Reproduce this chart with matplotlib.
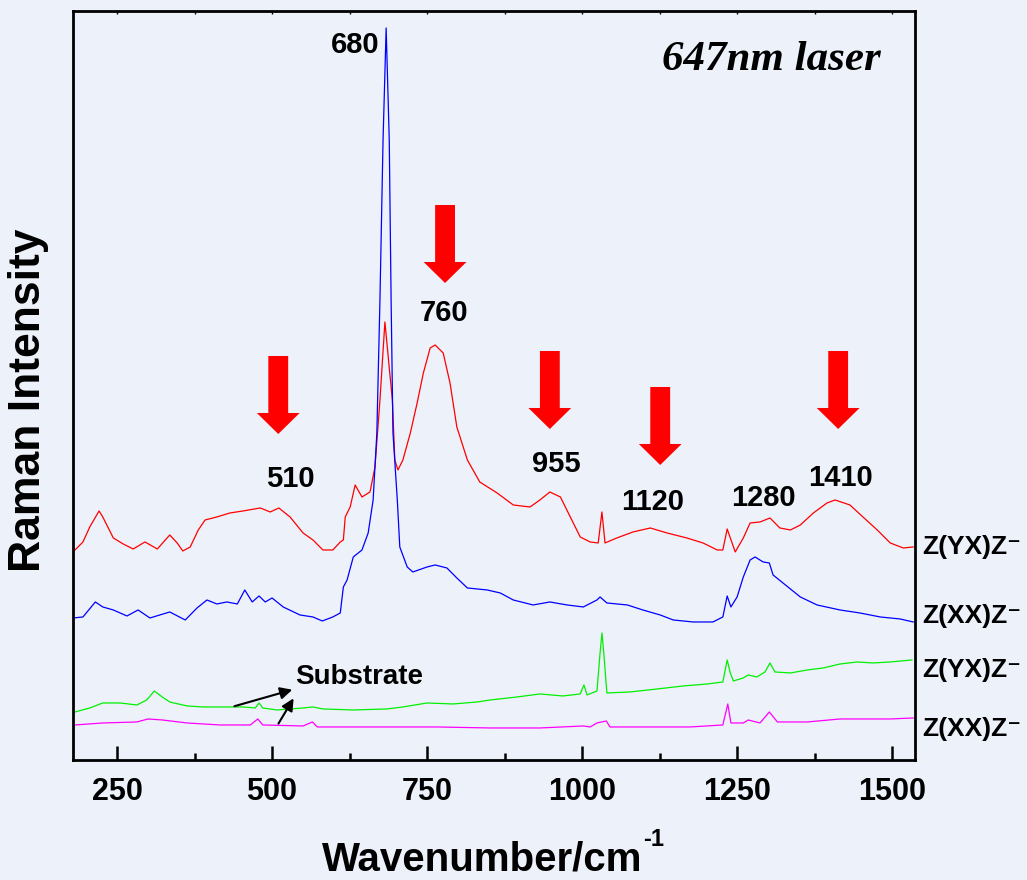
import numpy as np
import matplotlib.pyplot as plt
from matplotlib.patches import FancyArrow
from matplotlib.ticker import MultipleLocator

plt.rcParams['font.family'] = ['Liberation Sans', 'DejaVu Sans']
plt.rcParams['font.weight'] = 'bold'

# Z(YX)Z- (red)
red_x = [179, 195, 206, 221, 227, 244, 260, 276, 295, 315, 335, 347, 356, 368, 381, 392,
         411, 432, 453, 481, 497, 511, 529, 550, 566, 582, 598, 610, 615, 618, 626, 634,
         645, 658, 666, 674, 682, 694, 698, 703, 711, 723, 734, 744, 755, 763, 776, 787,
         798, 815, 835, 863, 889, 916, 932, 948, 965, 981, 997, 1013, 1026, 1032, 1037,
         1056, 1082, 1110, 1137, 1169, 1195, 1218, 1227, 1234, 1247, 1260, 1271, 1287,
         1303, 1319, 1336, 1352, 1373, 1395, 1408, 1432, 1453, 1476, 1497, 1518, 1534]
red_y = [208, 218, 233, 249, 243, 222, 216, 211, 218, 211, 225, 217, 209, 213, 230, 240,
         243, 247, 249, 252, 248, 252, 243, 227, 220, 210, 210, 218, 220, 243, 253, 275,
         263, 268, 293, 360, 438, 360, 300, 290, 300, 327, 357, 387, 412, 415, 407, 377,
         333, 300, 278, 267, 255, 253, 260, 268, 263, 243, 223, 218, 217, 248, 217,
         222, 228, 232, 227, 222, 217, 210, 210, 231, 208, 222, 237, 238,
         242, 232, 230, 235, 247, 257, 260, 255, 243, 230, 217, 212, 213]

# Z(XX)Z- (blue)
blue_x = [179, 195, 215, 227, 244, 266, 284, 303, 335, 360, 379, 395, 411, 427, 444, 456,
          468, 479, 489, 500, 518, 545, 566, 581, 598, 610, 615, 621, 631, 645, 655, 663,
          669, 674, 679, 684, 689, 692, 695, 702, 706, 718, 727, 750, 763, 782, 798, 815,
          847, 868, 889, 921, 948, 976, 1002, 1024, 1029, 1040, 1073, 1098, 1126, 1147,
          1179, 1211, 1227, 1234, 1240, 1250, 1260, 1271, 1279, 1292, 1302, 1308, 1324,
          1352, 1379, 1416, 1448, 1481, 1513, 1534]
blue_y = [142, 143, 158, 153, 150, 144, 150, 142, 148, 140, 152, 160, 156, 158, 156, 170,
          158, 164, 158, 162, 153, 145, 143, 139, 143, 147, 173, 180, 203, 210, 227, 260,
          327, 460, 620, 732, 620, 460, 327, 260, 213, 193, 188, 193, 195, 192, 182, 172,
          170, 167, 160, 155, 158, 155, 153, 160, 163, 157, 155, 150, 145, 140,
          138, 138, 143, 164, 153, 163, 183, 200, 203, 198, 197, 185, 177,
          163, 155, 150, 147, 143, 141, 138]

# substrate Z(YX)Z- (green)
green_x = [182, 206, 227, 255, 282, 298, 310, 323, 335, 363, 389, 416, 453, 473, 479, 485,
           508, 550, 566, 582, 631, 685, 711, 750, 792, 831, 852, 895, 932, 969, 997, 1003,
           1008, 1024, 1029, 1032, 1035, 1040, 1077, 1121, 1163, 1202, 1227, 1234, 1239,
           1244, 1260, 1268, 1282, 1295, 1303, 1311, 1336, 1363, 1389, 1416, 1444, 1469,
           1497, 1532]
green_y = [48, 52, 57, 57, 55, 60, 69, 63, 58, 54, 53, 53, 53, 52, 57, 52,
           50, 52, 53, 51, 50, 51, 53, 57, 56, 58, 60, 63, 66, 64, 66, 75,
           65, 69, 107, 127, 107, 67, 68, 71, 74, 76, 78, 100, 87,
           79, 82, 85, 83, 88, 97, 88, 87, 90, 92, 96, 98, 97,
           98, 100]

# substrate Z(XX)Z- (magenta)
mag_x = [182, 227, 282, 300, 323, 363, 416, 465, 477, 485, 550, 565, 573, 658, 766, 852,
         932, 1002, 1013, 1024, 1039, 1045, 1094, 1174, 1227, 1235, 1240, 1260, 1268, 1287,
         1302, 1315, 1363, 1416, 1497, 1534]
mag_y = [35, 37, 38, 41, 40, 37, 35, 35, 41, 35, 34, 38, 33, 33, 33, 32,
         32, 34, 33, 37, 39, 33, 33, 33, 35, 56, 37, 37, 40, 37,
         48, 38, 38, 41, 41, 42]

peak_labels = ['680', '760', '510', '955', '1120', '1280', '1410']
peak_label_x = [634, 777, 529, 958, 1113, 1292, 1416]
peak_label_y = [715, 447, 281, 296, 258, 262, 282]

arrow_x = [510, 779, 948, 1126, 1413]
arrow_top = [404, 555, 409, 373, 409]

curve_names = ['Z(YX)Z\u207b', 'Z(XX)Z\u207b', 'Z(YX)Z\u207b', 'Z(XX)Z\u207b']
curve_name_y = [213, 144, 90, 31]

bg = '#EDF1FA'
fig = plt.figure(figsize=(10.27, 8.8), dpi=100, facecolor=bg)
ax = fig.add_axes([0.0711, 0.1364, 0.8199, 0.8511])
ax.set_facecolor(bg)

ax.plot(red_x, red_y, color='#FF0000', lw=0.9)
ax.plot(blue_x, blue_y, color='#0000FF', lw=0.9)
ax.plot(green_x, green_y, color='#00F000', lw=0.9)
ax.plot(mag_x, mag_y, color='#FF00FF', lw=0.9)

ax.set_xlim(179, 1537)
ax.set_ylim(0, 749)

# red block arrows
for x, top in zip(arrow_x, arrow_top):
    ax.add_patch(FancyArrow(x, top, 0, -78, width=32, head_width=69, head_length=21,
                            length_includes_head=True, color='#FF0000', lw=0))

for t, x, y in zip(peak_labels, peak_label_x, peak_label_y):
    ax.text(x, y, t, fontsize=21, fontweight='bold', ha='center', va='center')

for t, y in zip(curve_names, curve_name_y):
    ax.text(1548, y, t, fontsize=19, fontweight='bold', ha='left', va='center', clip_on=False)

ax.text(1306, 700, '647nm laser', fontsize=31, fontweight='bold', fontstyle='italic',
        family='Liberation Serif', ha='center', va='center')

ax.text(537, 83, 'Substrate', fontsize=20, fontweight='bold', ha='left', va='center')
ax.annotate('', xy=(537, 71), xytext=(435, 53),
            arrowprops=dict(arrowstyle='-|>', color='black', lw=1.5, mutation_scale=18))
ax.annotate('', xy=(537, 64), xytext=(508, 34),
            arrowprops=dict(arrowstyle='-|>', color='black', lw=1.5, mutation_scale=18))

for s in ax.spines.values():
    s.set_linewidth(2)

ax.xaxis.set_major_locator(MultipleLocator(250))
ax.xaxis.set_minor_locator(MultipleLocator(125))
ax.tick_params(axis='x', which='major', direction='in', length=10, width=1.8,
               labelsize=22, pad=12)
ax.tick_params(axis='x', which='minor', direction='in', length=5, width=1.8)
for lab in ax.get_xticklabels():
    lab.set_fontweight('bold')
ax.set_yticks([])

top = ax.secondary_xaxis('top')
top.xaxis.set_major_locator(MultipleLocator(125))
top.tick_params(direction='in', length=2.5, width=1, labeltop=False)

# axis titles
fig.text(322 / 1027, 1 - 870 / 880, 'Wavenumber/cm', fontsize=29, fontweight='bold',
         ha='left', va='baseline')
fig.text(643 / 1027, 1 - 846 / 880, '-1', fontsize=17, fontweight='bold',
         ha='left', va='baseline')
fig.text(29 / 1027, 1 - 400 / 880, 'Raman Intensity', fontsize=32, fontweight='bold',
         rotation=90, ha='center', va='center')

plt.savefig('out.png', dpi=100, facecolor=bg)
